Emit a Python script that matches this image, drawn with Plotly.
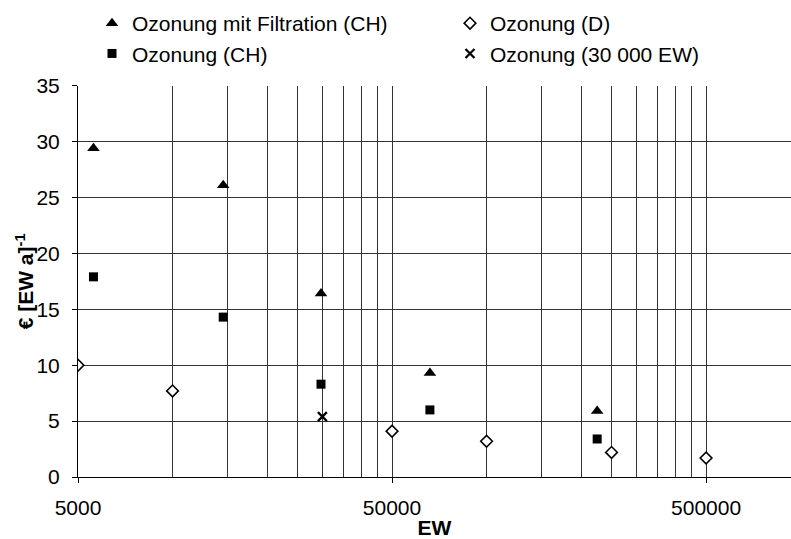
import math
import plotly.graph_objects as go

# Kosten der Ozonung je Einwohnerwert und Jahr über der Anlagengröße (EW)
ew_filtration_ch = [5600, 14500, 29700, 66000, 225000]
kosten_filtration_ch = [29.4, 26.1, 16.4, 9.3, 5.9]

ew_ozon_d = [5000, 10000, 50000, 100000, 250000, 500000]
kosten_ozon_d = [10.0, 7.7, 4.1, 3.2, 2.2, 1.7]

ew_ozon_ch = [5600, 14500, 29700, 66000, 225000]
kosten_ozon_ch = [17.9, 14.3, 8.3, 6.0, 3.4]

ew_30000 = [30000]
kosten_30000 = [5.4]

major_ticks = [5000, 50000, 500000]
minor_grid = [10000, 15000, 20000, 25000, 30000, 35000, 40000, 45000,
              100000, 150000, 200000, 250000, 300000, 350000, 400000, 450000]

FONT = "Liberation Sans, Arial, sans-serif"
GRID = "#333333"

fig = go.Figure()
fig.add_trace(go.Scatter(
    x=ew_filtration_ch, y=kosten_filtration_ch, mode="markers",
    name="Ozonung mit Filtration (CH)",
    marker=dict(symbol="triangle-up", size=11, color="black"),
))
fig.add_trace(go.Scatter(
    x=ew_ozon_d, y=kosten_ozon_d, mode="markers",
    name="Ozonung (D)",
    marker=dict(symbol="diamond", size=9, color="white",
                line=dict(color="black", width=1.6)),
))
fig.add_trace(go.Scatter(
    x=ew_ozon_ch, y=kosten_ozon_ch, mode="markers",
    name="Ozonung (CH)",
    marker=dict(symbol="square", size=9, color="black"),
))
fig.add_trace(go.Scatter(
    x=ew_30000, y=kosten_30000, mode="markers",
    name="Ozonung (30 000 EW)",
    marker=dict(symbol="x-thin", size=9, color="black",
                line=dict(color="black", width=2.2)),
))

fig.update_layout(
    width=791, height=539,
    margin=dict(l=78, r=0, t=85, b=61),
    paper_bgcolor="white", plot_bgcolor="white",
    font=dict(family=FONT, size=21, color="black"),
    showlegend=True,
    legend=dict(
        orientation="h", xref="container", yref="container",
        x=92 / 791, y=1 - 3 / 539, xanchor="left", yanchor="top",
        entrywidth=313, entrywidthmode="pixels",
        font=dict(family=FONT, size=21, color="black"),
        itemwidth=30, tracegroupgap=0, bgcolor="rgba(0,0,0,0)",
    ),
    xaxis=dict(
        type="log",
        range=[math.log10(5000), math.log10(932000)],
        tickmode="array", tickvals=major_ticks,
        ticktext=[str(v) for v in major_ticks],
        showgrid=True, gridcolor=GRID, gridwidth=1,
        ticks="outside", ticklen=5, tickcolor="black",
        ticklabelstandoff=7,
        showline=True, linecolor="black", linewidth=1,
        zeroline=False,
        minor=dict(tickmode="array", tickvals=minor_grid, showgrid=True,
                   gridcolor=GRID, gridwidth=1, ticks=""),
        title=dict(text="<b>EW</b>", standoff=5,
                   font=dict(family=FONT, size=21, color="black")),
        tickfont=dict(family=FONT, size=21, color="black"),
    ),
    yaxis=dict(
        range=[0, 35], tickmode="linear", tick0=0, dtick=5,
        showgrid=True, gridcolor=GRID, gridwidth=1,
        ticks="outside", ticklen=5, tickcolor="black",
        ticklabelstandoff=8,
        showline=True, linecolor="black", linewidth=1,
        zeroline=False,
        tickfont=dict(family=FONT, size=21, color="black"),
    ),
    annotations=[dict(
        text="<b>€ [EW a]<sup>-1</sup></b>",
        xref="paper", yref="paper", x=(25 - 78) / 713, y=0.5,
        xanchor="center", yanchor="middle", textangle=-90, showarrow=False,
        font=dict(family=FONT, size=21, color="black"),
    )],
)

fig.write_html("out.html")
